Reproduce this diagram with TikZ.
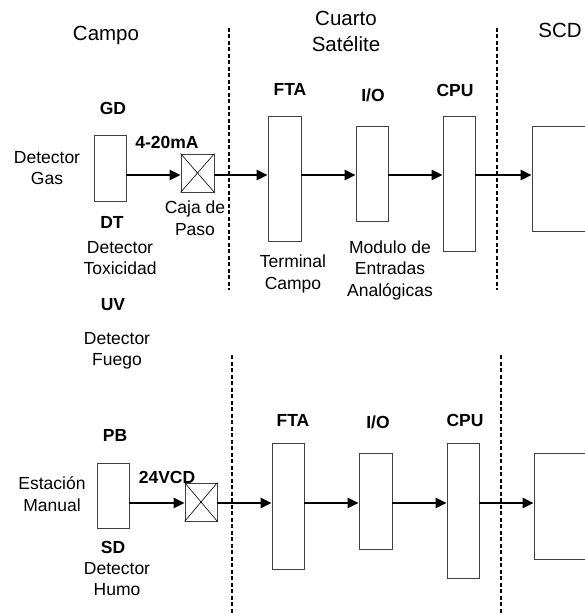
\documentclass[tikz,border=0pt]{standalone}
\usepackage{fontspec}
\setmainfont{Liberation Sans}
\usetikzlibrary{arrows.meta}
\begin{document}
\begin{tikzpicture}[x=1pt,y=-1pt,
  box/.style={draw=black!75, line width=0.8pt, fill=white, inner sep=0pt},
  lbl/.style={font=\fontsize{17.5}{21.5}\selectfont, align=center, inner sep=0pt},
  hlbl/.style={font=\fontsize{20.5}{26}\selectfont, align=center, inner sep=0pt},
  blbl/.style={font=\fontsize{17.5}{21.5}\selectfont\bfseries, inner sep=0pt},
  flow/.style={line width=2.6pt, -{Triangle[length=11pt,width=10pt]}},
  sep/.style={line width=1.7pt, dash pattern=on 4pt off 2.5pt}]
\clip (0,0) rectangle (585,615);
% zone separators
\draw[sep] (229,28) -- (229,290);
\draw[sep] (497,28) -- (497,290);
\draw[sep] (232,355) -- (232,615);
\draw[sep] (501,355) -- (501,615);
% headers
\node[hlbl] (hcampo) at (106,35) {Campo};
\node[hlbl] (hcuarto) at (346,31) {Cuarto\\Satélite};
\node[hlbl] (hscd) at (560,30) {SCD};
% ---------- top chain ----------
\coordinate (ya) at (0,175);
\node[box, minimum width=32pt, minimum height=66pt] (gd) at (110,168) {};
\node[box, minimum width=33pt, minimum height=38pt] (cxa) at (197.5,173) {};
\draw[line width=0.6pt] (cxa.north west) -- (cxa.south east) (cxa.north east) -- (cxa.south west);
\node[box, minimum width=33pt, minimum height=125pt] (ftaa) at (284.5,178.5) {};
\node[box, minimum width=32pt, minimum height=95pt] (ioa) at (372,173.5) {};
\node[box, minimum width=32pt, minimum height=135pt] (cpua) at (459,183.5) {};
\node[box, minimum width=80pt, minimum height=105pt] (scda) at (572,178.5) {};
\draw[flow] (gd.east |- ya) -- (cxa.west |- ya);
\draw[flow] (cxa.east |- ya) -- (ftaa.west |- ya);
\draw[flow] (ftaa.east |- ya) -- (ioa.west |- ya);
\draw[flow] (ioa.east |- ya) -- (cpua.west |- ya);
\draw[flow] (cpua.east |- ya) -- (scda.west |- ya);
% labels top
\node[blbl] (lgd) at (113,108) {GD};
\node[blbl] (lma) at (167,142) {4-20mA};
\node[lbl] (ldg) at (47,168) {Detector\\Gas};
\node[lbl] (lcaja) at (195,218) {Caja de\\Paso};
\node[blbl] (ldt) at (112,222) {DT};
\node[lbl] (ldtx) at (120,258) {Detector\\Toxicidad};
\node[blbl] (luv) at (113,305) {UV};
\node[lbl] (lfue) at (117,351) {Detector\\Fuego};
\node[blbl] (lftaa) at (290,89) {FTA};
\node[blbl] (lioa) at (373,95) {I/O};
\node[blbl] (lcpua) at (455,90) {CPU};
\node[lbl] (lterm) at (293,274) {Terminal\\Campo};
\node[lbl] (lmod) at (390,270) {Modulo de\\Entradas\\Analógicas};
% ---------- bottom chain ----------
\coordinate (yb) at (0,503);
\node[box, minimum width=32pt, minimum height=65pt] (pb) at (113,495.5) {};
\node[box, minimum width=32pt, minimum height=38pt] (cxb) at (201,502) {};
\draw[line width=0.6pt] (cxb.north west) -- (cxb.south east) (cxb.north east) -- (cxb.south west);
\node[box, minimum width=32pt, minimum height=126pt] (ftab) at (288,506) {};
\node[box, minimum width=33pt, minimum height=96pt] (iob) at (375.5,501) {};
\node[box, minimum width=32pt, minimum height=135pt] (cpub) at (463,510.5) {};
\node[box, minimum width=80pt, minimum height=106pt] (scdb) at (574,506) {};
\draw[flow] (pb.east |- yb) -- (cxb.west |- yb);
\draw[flow] (cxb.east |- yb) -- (ftab.west |- yb);
\draw[flow] (ftab.east |- yb) -- (iob.west |- yb);
\draw[flow] (iob.east |- yb) -- (cpub.west |- yb);
\draw[flow] (cpub.east |- yb) -- (scdb.west |- yb);
% labels bottom
\node[blbl] (lpb) at (115,435) {PB};
\node[blbl] (lvcd) at (167,477) {24VCD};
\node[lbl] (lem) at (52,494) {Estación\\Manual};
\node[blbl] (lsd) at (113,547) {SD};
\node[lbl] (ldh) at (117,579) {Detector\\Humo};
\node[blbl] (lftab) at (293,420) {FTA};
\node[blbl] (liob) at (378,422) {I/O};
\node[blbl] (lcpub) at (465,420) {CPU};
\end{tikzpicture}
\end{document}
